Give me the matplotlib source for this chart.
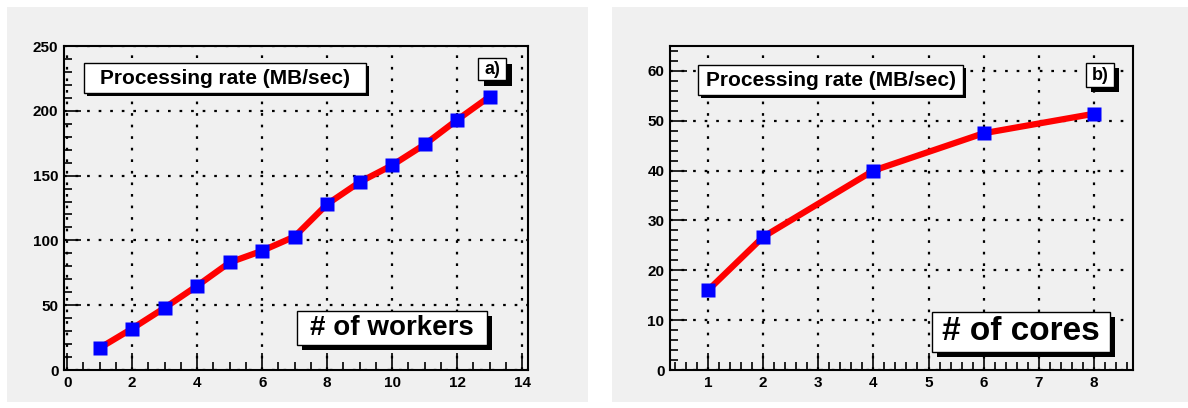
import matplotlib
matplotlib.use("Agg")
import matplotlib.pyplot as plt
from matplotlib.patches import Rectangle
from matplotlib.ticker import MultipleLocator

plt.rcParams['font.family'] = ['Liberation Sans', 'DejaVu Sans']
plt.rcParams['font.weight'] = 'bold'

# data
workers = [1, 2, 3, 4, 5, 6, 7, 8, 9, 10, 11, 12, 13]
rate_workers = [17, 32, 48, 65, 83, 92, 103, 128, 145, 158, 174, 193, 211]
cores = [1, 2, 4, 6, 8]
rate_cores = [16, 26.7, 40, 47.5, 51.4]

W, H = 1188, 408
PAD = '#f0f0f0'
fig = plt.figure(figsize=(W / 100, H / 100), dpi=100)


def px(x0, y0, x1, y1):
    # pixel box (top-left origin) -> figure fraction [l, b, w, h]
    return [x0 / W, 1 - y1 / H, (x1 - x0) / W, (y1 - y0) / H]


def pad(x0, y0, x1, y1):
    l, b, w, h = px(x0, y0, x1, y1)
    fig.patches.append(Rectangle((l, b), w, h, transform=fig.transFigure,
                                 facecolor=PAD, edgecolor='none', zorder=-10))


def label_box(x0, y0, x1, y1, sh, text, size):
    l, b, w, h = px(x0 + sh, y0 + sh, x1 + sh, y1 + sh)
    fig.patches.append(Rectangle((l, b), w, h, transform=fig.transFigure,
                                 facecolor='black', edgecolor='none', zorder=5))
    l, b, w, h = px(x0, y0, x1, y1)
    fig.patches.append(Rectangle((l, b), w, h, transform=fig.transFigure,
                                 facecolor='white', edgecolor='black', lw=1, zorder=6))
    fig.text(l + w / 2, b + h / 2, text, ha='center', va='center', fontsize=size,
             fontweight='bold', zorder=7)


def style(ax, xmaj, xmin, ymaj, ymin):
    ax.set_facecolor(PAD)
    ax.xaxis.set_major_locator(MultipleLocator(xmaj))
    ax.xaxis.set_minor_locator(MultipleLocator(xmin))
    ax.yaxis.set_major_locator(MultipleLocator(ymaj))
    ax.yaxis.set_minor_locator(MultipleLocator(ymin))
    ax.tick_params(which='both', direction='in', top=False, right=False,
                   labelsize=11, width=1.2, pad=4)
    ax.tick_params(which='major', length=12)
    ax.tick_params(which='minor', length=6)
    ax.grid(True, which='major', color='black', linestyle=(0, (1.2, 4)), linewidth=1.6)
    for s in ax.spines.values():
        s.set_linewidth(1.5)
    for t in ax.get_xticklabels() + ax.get_yticklabels():
        t.set_fontweight('bold')


pad(7, 7, 588, 402)
pad(612, 7, 1188, 402)

ax1 = fig.add_axes(px(64, 46, 528, 370))
ax1.plot(workers, rate_workers, color='red', lw=4.5, zorder=3)
ax1.plot(workers, rate_workers, 's', color='blue', ms=10, mec='none', zorder=4)
ax1.set_xlim(-0.1, 14.18)
ax1.set_ylim(0, 250)
style(ax1, 2, 0.5, 50, 10)

ax2 = fig.add_axes(px(670, 46, 1133, 370))
ax2.plot(cores, rate_cores, color='red', lw=4.5, zorder=3)
ax2.plot(cores, rate_cores, 's', color='blue', ms=10, mec='none', zorder=4)
ax2.set_xlim(0.31, 8.71)
ax2.set_ylim(0, 65)
style(ax2, 1, 0.2, 10, 2)

label_box(84, 63, 366, 93, 3, 'Processing rate (MB/sec)', 15)
label_box(478, 58, 506, 80, 6, 'a)', 13)
label_box(297, 311, 487, 345, 5, '# of workers', 20)

label_box(698, 65, 963, 95, 3, 'Processing rate (MB/sec)', 15)
label_box(1086, 63, 1114, 87, 5, 'b)', 13)
label_box(932, 312, 1110, 352, 5, '# of cores', 24)

fig.savefig('out.png', dpi=100, facecolor='white')
